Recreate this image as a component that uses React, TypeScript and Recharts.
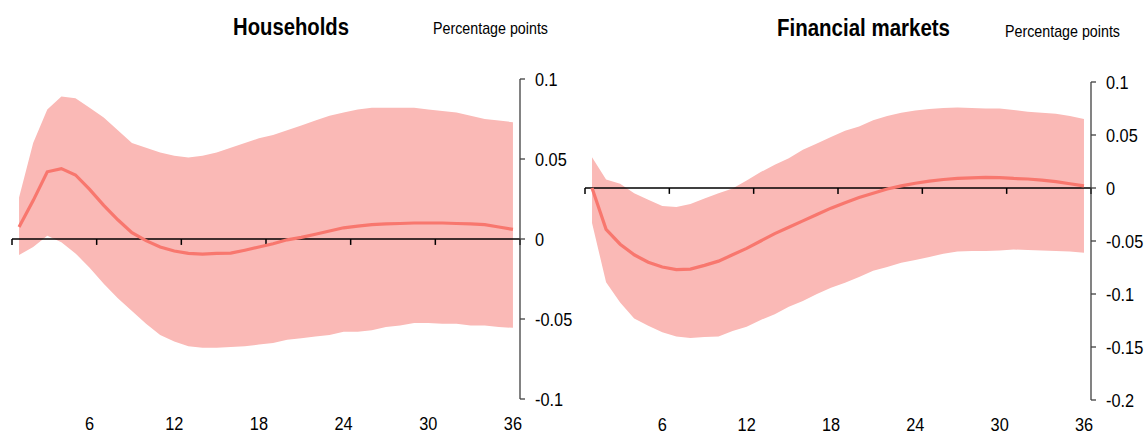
import { Area, ComposedChart, Line, ReferenceLine, XAxis, YAxis } from "recharts";

// Months after the shock (1..36); points sit in the middle of each month
const MONTHS = Array.from({ length: 36 }, (_, i) => i + 1);
const MONTH_LABELS = [6, 12, 18, 24, 30, 36];
const ZERO_TICKS = [0, 6, 12, 18, 24, 30, 36];

// Households: median response and confidence band
const HH_MID = [
  0.0075, 0.024, 0.042, 0.044, 0.04, 0.031, 0.021, 0.012, 0.004, -0.001, -0.005, -0.0075,
  -0.009, -0.0095, -0.009, -0.0088, -0.007, -0.005, -0.003, -0.0005, 0.001, 0.003, 0.005, 0.007,
  0.008, 0.009, 0.0095, 0.0097, 0.01, 0.01, 0.01, 0.0097, 0.0095, 0.009, 0.0075, 0.006,
];
const HH_HI = [
  0.026, 0.06, 0.081, 0.089, 0.088, 0.082, 0.076, 0.068, 0.06, 0.057, 0.054, 0.052,
  0.051, 0.052, 0.054, 0.057, 0.06, 0.063, 0.065, 0.068, 0.071, 0.074, 0.077, 0.079,
  0.081, 0.082, 0.082, 0.082, 0.082, 0.081, 0.08, 0.079, 0.077, 0.075, 0.074, 0.073,
];
const HH_LO = [
  -0.01, -0.005, 0.002, -0.002, -0.009, -0.018, -0.028, -0.037, -0.045, -0.053, -0.06, -0.064,
  -0.067, -0.068, -0.068, -0.0675, -0.067, -0.066, -0.065, -0.063, -0.062, -0.061, -0.06, -0.058,
  -0.058, -0.057, -0.055, -0.054, -0.0525, -0.0525, -0.053, -0.053, -0.054, -0.054, -0.055, -0.0555,
];
const HH_Y_TICKS = [-0.1, -0.05, 0, 0.05, 0.1];

// Financial markets: median response and confidence band
const FM_MID = [
  0, -0.039, -0.053, -0.063, -0.07, -0.0745, -0.077, -0.0765, -0.073, -0.069, -0.063, -0.057,
  -0.05, -0.043, -0.037, -0.031, -0.025, -0.019, -0.014, -0.009, -0.005, -0.001, 0.002, 0.0045,
  0.0065, 0.008, 0.009, 0.0095, 0.01, 0.0098, 0.009, 0.0085, 0.0075, 0.006, 0.004, 0.002,
];
const FM_HI = [
  0.029, 0.008, 0.004, -0.005, -0.011, -0.017, -0.018, -0.015, -0.01, -0.005, -0.0005, 0.007,
  0.015, 0.022, 0.028, 0.036, 0.042, 0.048, 0.054, 0.058, 0.064, 0.068, 0.071, 0.073,
  0.0745, 0.0755, 0.076, 0.0755, 0.075, 0.075, 0.0735, 0.072, 0.071, 0.07, 0.068, 0.065,
];
const FM_LO = [
  -0.033, -0.089, -0.108, -0.123, -0.13, -0.136, -0.14, -0.1415, -0.1405, -0.14, -0.135, -0.131,
  -0.1245, -0.119, -0.112, -0.1065, -0.1, -0.094, -0.0895, -0.084, -0.078, -0.0745, -0.0705, -0.068,
  -0.065, -0.062, -0.06, -0.0595, -0.0595, -0.059, -0.058, -0.0585, -0.059, -0.0595, -0.06, -0.061,
];
const FM_Y_TICKS = [-0.2, -0.15, -0.1, -0.05, 0, 0.05, 0.1];

const BAND = "#fab9b6";
const LINE = "#f8776e";
const FONT = "'Liberation Sans', Arial, sans-serif";
const TICK_FONT_SIZE = 19;
const TICK_SQUEEZE = 0.86;

function buildRows(mid: number[], lo: number[], hi: number[]) {
  return MONTHS.map((m, i) => ({ x: m - 0.5, mid: mid[i], band: [lo[i], hi[i]] }));
}

// Tick labels are set in a slightly condensed face
function MonthTick(props: any) {
  const { x, y, payload } = props;
  return (
    <text
      transform={`translate(${x},${y}) scale(${TICK_SQUEEZE},1)`}
      textAnchor="middle"
      dy="0.71em"
      fontSize={TICK_FONT_SIZE}
      fontFamily={FONT}
      fill="#000"
    >
      {String(payload.value + 0.5)}
    </text>
  );
}

function ValueTick(props: any) {
  const { x, y, payload } = props;
  return (
    <text
      transform={`translate(${x},${y}) scale(${TICK_SQUEEZE},1)`}
      textAnchor="start"
      dy="0.36em"
      fontSize={TICK_FONT_SIZE}
      fontFamily={FONT}
      fill="#000"
    >
      {String(payload.value)}
    </text>
  );
}

interface PanelProps {
  left: number;
  rows: ReturnType<typeof buildRows>;
  yDomain: [number, number];
  yTicks: number[];
  margin: { top: number; right: number; bottom: number; left: number };
}

function Panel({ left, rows, yDomain, yTicks, margin }: PanelProps) {
  // small downward tick marks on the zero line, about 6px long
  const tickDepth = (yDomain[1] - yDomain[0]) * 0.0185;
  return (
    <div style={{ position: "absolute", left, top: 0 }}>
      <ComposedChart width={573} height={435} data={rows} margin={margin}>
        <XAxis
          dataKey="x"
          type="number"
          domain={[0, 36]}
          ticks={MONTH_LABELS.map((m) => m - 0.5)}
          axisLine={false}
          tickLine={false}
          tickMargin={11}
          height={30}
          tick={<MonthTick />}
        />
        <YAxis
          orientation="right"
          type="number"
          domain={yDomain}
          ticks={yTicks}
          width={45}
          tickSize={5}
          tickMargin={10}
          axisLine={{ stroke: "#404040", strokeWidth: 1.3 }}
          tickLine={{ stroke: "#404040", strokeWidth: 1.3 }}
          tick={<ValueTick />}
        />
        <Area
          dataKey="band"
          type="linear"
          fill={BAND}
          fillOpacity={1}
          stroke="none"
          isAnimationActive={false}
        />
        <ReferenceLine y={0} stroke="#000" strokeWidth={1.5} />
        {ZERO_TICKS.map((t) => (
          <ReferenceLine
            key={t}
            segment={[
              { x: t, y: 0 },
              { x: t, y: -tickDepth },
            ]}
            stroke="#000"
            strokeWidth={1.5}
          />
        ))}
        <Line
          dataKey="mid"
          type="linear"
          stroke={LINE}
          strokeWidth={3.2}
          dot={false}
          isAnimationActive={false}
        />
      </ComposedChart>
    </div>
  );
}

export default function App() {
  const hh = buildRows(HH_MID, HH_LO, HH_HI);
  const fm = buildRows(FM_MID, FM_LO, FM_HI);
  return (
    <div
      style={{
        position: "absolute",
        left: 0,
        top: 0,
        width: 1146,
        height: 435,
        background: "#fff",
        fontFamily: FONT,
      }}
    >
      <Panel
        left={0}
        rows={hh}
        yDomain={[-0.1, 0.1]}
        yTicks={HH_Y_TICKS}
        margin={{ top: 79, right: 8, bottom: 6, left: 12 }}
      />
      <Panel
        left={573}
        rows={fm}
        yDomain={[-0.2, 0.1]}
        yTicks={FM_Y_TICKS}
        margin={{ top: 82, right: 10, bottom: 5, left: 12 }}
      />
      <svg
        width={1146}
        height={60}
        style={{ position: "absolute", left: 0, top: 0, pointerEvents: "none" }}
      >
        <text x={233} y={35} fontSize={23} fontWeight="bold" fontFamily={FONT}
          textLength={116} lengthAdjust="spacingAndGlyphs">
          Households
        </text>
        <text x={433} y={34} fontSize={17} fontFamily={FONT}
          textLength={115} lengthAdjust="spacingAndGlyphs">
          Percentage points
        </text>
        <text x={777} y={36} fontSize={23} fontWeight="bold" fontFamily={FONT}
          textLength={173} lengthAdjust="spacingAndGlyphs">
          Financial markets
        </text>
        <text x={1005} y={37} fontSize={17} fontFamily={FONT}
          textLength={115} lengthAdjust="spacingAndGlyphs">
          Percentage points
        </text>
      </svg>
    </div>
  );
}
